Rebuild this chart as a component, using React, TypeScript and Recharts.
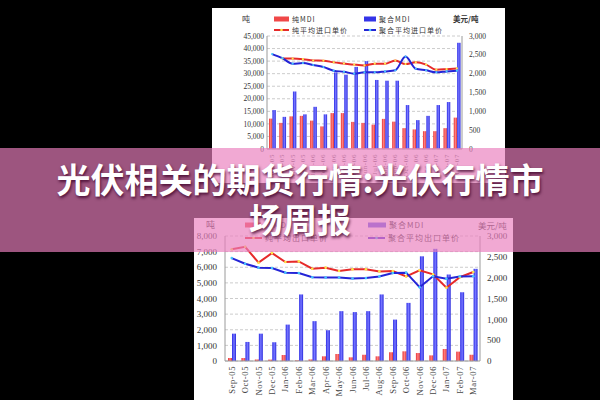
import React from 'react';
import { ComposedChart, Bar, Line, XAxis, YAxis, CartesianGrid } from 'recharts';

const months = [
  'Sep-05', 'Oct-05', 'Nov-05', 'Dec-05', 'Jan-06', 'Feb-06', 'Mar-06', 'Apr-06', 'May-06', 'Jun-06',
  'Jul-06', 'Aug-06', 'Sep-06', 'Oct-06', 'Nov-06', 'Dec-06', 'Jan-07', 'Feb-07', 'Mar-07',
];

// top chart: imports (tons, USD/ton)
const importPureQty = [12100, 10400, 13000, 13200, 11300, 9000, 14300, 14300, 10800, 10400, 9700, 12000, 10900, 8300, 7800, 7100, 7100, 8300, 12500];
const importPolyQty = [15500, 12800, 22900, 13800, 16800, 13800, 30500, 29600, 32700, 35000, 27500, 27200, 27200, 17500, 11500, 13200, 17500, 18700, 42300];
const importPurePrice = [null, 2400, 2400, 2385, 2350, 2345, 2300, 2270, 2240, 2220, 2265, 2265, 2350, 2255, 2300, 2240, 2105, 2120, 2140];
const importPolyPrice = [2520, 2410, 2265, 2280, 2230, 2175, 2080, 2050, 2000, 2035, 2035, 2060, 2090, 2455, 2130, 2090, 2035, 2060, 2080];

// bottom chart: exports
const exportPureQty = [190, 190, 100, 90, 385, 40, 100, 300, 450, 235, 400, 300, 560, 620, 510, 360, 770, 600, 400];
const exportPolyQty = [1750, 1220, 1750, 1200, 2330, 4260, 2550, 1970, 3190, 3130, 3190, 4260, 2650, 3720, 6700, 7180, 5530, 4400, 5900];
const exportPurePrice = [2680, 2740, 2360, 2590, 2375, 2390, 2215, 2240, 2160, 2200, 2200, 2150, 2160, 2030, 2175, 2080, 1760, 2010, 2135];
const exportPolyPrice = [2470, 2335, 2240, 2230, 2120, 2110, 2010, 2005, 2005, 1980, 1990, 2030, 2110, 2120, 1770, 2035, 1975, 2030, 2035];

const topQtyTicks = [0, 5000, 10000, 15000, 20000, 25000, 30000, 35000, 40000, 45000];
const bottomQtyTicks = [0, 1000, 2000, 3000, 4000, 5000, 6000, 7000, 8000];
const priceTicks = [0, 500, 1000, 1500, 2000, 2500, 3000];

const title1 = '光伏相关的期货行情:光伏行情市';
const title2 = '场周报';

const NUM_FONT = "'Liberation Serif', 'DejaVu Serif', serif";
const CJK_FONT = "'Noto Sans CJK SC', sans-serif";
const RED = '#e62a2a';
const BLUE = '#2424d6';
const AXIS = '#9a9a9a';

const fmt = (v: number) => v.toLocaleString('en-US');

const topData = months.map((month, i) => ({
  month,
  pure: importPureQty[i],
  poly: importPolyQty[i],
  purePrice: importPurePrice[i],
  polyPrice: importPolyPrice[i],
}));

const bottomData = months.map((month, i) => ({
  month,
  pure: exportPureQty[i],
  poly: exportPolyQty[i],
  purePrice: exportPurePrice[i],
  polyPrice: exportPolyPrice[i],
}));

const MonthTick = (props: any) => {
  const { x, y, payload, size, color } = props;
  return (
    <text
      x={x}
      y={y}
      transform={`rotate(-90 ${x} ${y})`}
      textAnchor="end"
      dominantBaseline="central"
      fontSize={size}
      fill={color}
      fontFamily={NUM_FONT}
      letterSpacing={0.6}
    >
      {payload.value}
    </text>
  );
};

const BarGradients = ({ id }: { id: string }) => (
  <defs>
    <linearGradient id={`${id}Red`} x1="0" y1="0" x2="1" y2="0">
      <stop offset="0%" stopColor="#e83434" />
      <stop offset="50%" stopColor="#ff8080" />
      <stop offset="100%" stopColor="#e03030" />
    </linearGradient>
    <linearGradient id={`${id}Blue`} x1="0" y1="0" x2="1" y2="0">
      <stop offset="0%" stopColor="#2a2ae6" />
      <stop offset="50%" stopColor="#7878ff" />
      <stop offset="100%" stopColor="#2626dc" />
    </linearGradient>
  </defs>
);

const Key = ({ left, top, kind, color, dotColor, label, size, w }: any) => (
  <div style={{ position: 'absolute', left, top, display: 'flex', alignItems: 'center', whiteSpace: 'nowrap' }}>
    <svg width={w} height={8} style={{ marginRight: 3 }}>
      {kind === 'box' ? (
        <rect x={0} y={1.5} width={w} height={5} fill={color} />
      ) : (
        <g>
          <line x1={0} y1={4} x2={w} y2={4} stroke={color} strokeWidth={2} />
          <circle cx={w / 2} cy={4} r={1.3} fill={dotColor} />
        </g>
      )}
    </svg>
    <span style={{ fontFamily: CJK_FONT, fontSize: size, letterSpacing: 1, color: '#333', lineHeight: '8px' }}>{label}</span>
  </div>
);

const Txt = ({ left, top, size, children, bold }: any) => (
  <div style={{ position: 'absolute', left, top, fontFamily: CJK_FONT, fontSize: size, color: '#333', fontWeight: bold ? 700 : 400, lineHeight: '10px', whiteSpace: 'nowrap' }}>
    {children}
  </div>
);

export default function App() {
  return (
    <div style={{ position: 'absolute', left: 0, top: 0, width: 600, height: 400, background: '#000', overflow: 'hidden' }}>
      {/* top panel: imports */}
      <div style={{ position: 'absolute', left: 212, top: 8, width: 293, height: 175, background: '#fff' }}>
        <ComposedChart width={293} height={175} data={topData} margin={{ top: 28, right: 0, bottom: 0, left: 0 }} barGap={0}>
          <BarGradients id="top" />
          <CartesianGrid yAxisId="qty" vertical={false} stroke="#cccccc" strokeDasharray="3 2" />
          <XAxis dataKey="month" interval={0} height={34} tickLine={false} tickSize={2} tickMargin={3} axisLine={{ stroke: AXIS }}
            tick={(p: any) => <MonthTick {...p} size={7} color="#555" />} />
          <YAxis yAxisId="qty" domain={[0, 45000]} ticks={topQtyTicks} interval={0} width={55} tickFormatter={fmt}
            tickLine={false} tickSize={2} tickMargin={1} axisLine={{ stroke: AXIS }}
            tick={{ fontSize: 7.5, fill: '#333', fontFamily: NUM_FONT }} />
          <YAxis yAxisId="price" orientation="right" domain={[0, 3000]} ticks={priceTicks} interval={0} width={43} tickFormatter={fmt}
            tickLine={false} tickSize={4} tickMargin={3} axisLine={{ stroke: AXIS }}
            tick={{ fontSize: 7.5, fill: '#333', fontFamily: NUM_FONT }} />
          <Bar yAxisId="qty" dataKey="pure" fill="url(#topRed)" barSize={3.4} isAnimationActive={false} />
          <Bar yAxisId="qty" dataKey="poly" fill="url(#topBlue)" barSize={3.4} isAnimationActive={false} />
          <Line yAxisId="price" type="monotone" dataKey="purePrice" stroke={RED} strokeWidth={2}
            dot={{ r: 1.1, fill: '#ffe94a', stroke: 'none' }} isAnimationActive={false} />
          <Line yAxisId="price" type="monotone" dataKey="polyPrice" stroke={BLUE} strokeWidth={2}
            dot={{ r: 1.1, fill: '#46c8ff', stroke: 'none' }} isAnimationActive={false} />
        </ComposedChart>
      </div>
      <Txt left={242} top={14} size={8}>吨</Txt>
      <Txt left={453} top={14} size={7.5} bold>美元/吨</Txt>
      <Key left={274} top={15} kind="box" color="#f04848" label="纯MDI" size={7} w={15} />
      <Key left={364} top={15} kind="box" color="#3434e8" label="聚合MDI" size={7} w={12} />
      <Key left={274} top={26} kind="line" color={RED} dotColor="#ffe94a" label="纯平均进口单价" size={7} w={15} />
      <Key left={364} top={26} kind="line" color={BLUE} dotColor="#46c8ff" label="聚合平均进口单价" size={7} w={12} />

      {/* bottom panel: exports */}
      <div style={{ position: 'absolute', left: 194, top: 218, width: 319, height: 182, background: '#fff' }}>
        <ComposedChart width={319} height={182} data={bottomData} margin={{ top: 18, right: 0, bottom: 0, left: 0 }} barGap={0}>
          <BarGradients id="bot" />
          <CartesianGrid yAxisId="qty" vertical={false} stroke="#cccccc" strokeDasharray="3 2" />
          <XAxis dataKey="month" interval={0} height={39} tickLine={false} tickSize={2} tickMargin={3} axisLine={{ stroke: AXIS }}
            tick={(p: any) => <MonthTick {...p} size={8.5} color="#444" />} />
          <YAxis yAxisId="qty" domain={[0, 8000]} ticks={bottomQtyTicks} interval={0} width={31} tickFormatter={fmt}
            tickLine={false} tickSize={4} tickMargin={4} axisLine={{ stroke: AXIS }}
            tick={{ fontSize: 9, fill: '#333', fontFamily: NUM_FONT }} />
          <YAxis yAxisId="price" orientation="right" domain={[0, 3000]} ticks={priceTicks} interval={0} width={33} tickFormatter={fmt}
            tickLine={false} tickSize={4} tickMargin={3} axisLine={{ stroke: AXIS }}
            tick={{ fontSize: 9, fill: '#333', fontFamily: NUM_FONT }} />
          <Bar yAxisId="qty" dataKey="pure" fill="url(#botRed)" barSize={4} isAnimationActive={false} />
          <Bar yAxisId="qty" dataKey="poly" fill="url(#botBlue)" barSize={4} isAnimationActive={false} />
          <Line yAxisId="price" type="linear" dataKey="purePrice" stroke={RED} strokeWidth={2}
            dot={{ r: 1.3, fill: '#ffe94a', stroke: 'none' }} isAnimationActive={false} />
          <Line yAxisId="price" type="linear" dataKey="polyPrice" stroke={BLUE} strokeWidth={2}
            dot={{ r: 1.3, fill: '#46c8ff', stroke: 'none' }} isAnimationActive={false} />
        </ComposedChart>
      </div>
      <Txt left={206} top={220} size={9}>吨</Txt>
      <Txt left={478} top={220} size={8.5}>美元/吨</Txt>
      <Key left={245} top={221} kind="box" color="#f04848" label="纯MDI" size={8} w={16} />
      <Key left={368} top={221} kind="box" color="#5a5ae8" label="聚合MDI" size={8} w={18} />
      <Key left={245} top={234} kind="line" color={RED} dotColor="#ffe94a" label="纯平均出口单价" size={8} w={17} />
      <Key left={368} top={234} kind="line" color="#4a2ad8" dotColor="#46c8ff" label="聚合平均出口单价" size={8} w={17} />

      {/* banner */}
      <div style={{ position: 'absolute', left: 0, top: 148, width: 600, height: 104, background: 'rgba(234,127,190,0.67)' }} />
      <div style={{ position: 'absolute', left: 0, top: 159, width: 600, textAlign: 'center', fontFamily: CJK_FONT, fontWeight: 700,
        fontSize: 34, lineHeight: '40px', color: '#fff', textShadow: '1px 2px 3px rgba(60,0,40,0.8)' }}>
        <div>{title1}</div>
        <div>{title2}</div>
      </div>
    </div>
  );
}
